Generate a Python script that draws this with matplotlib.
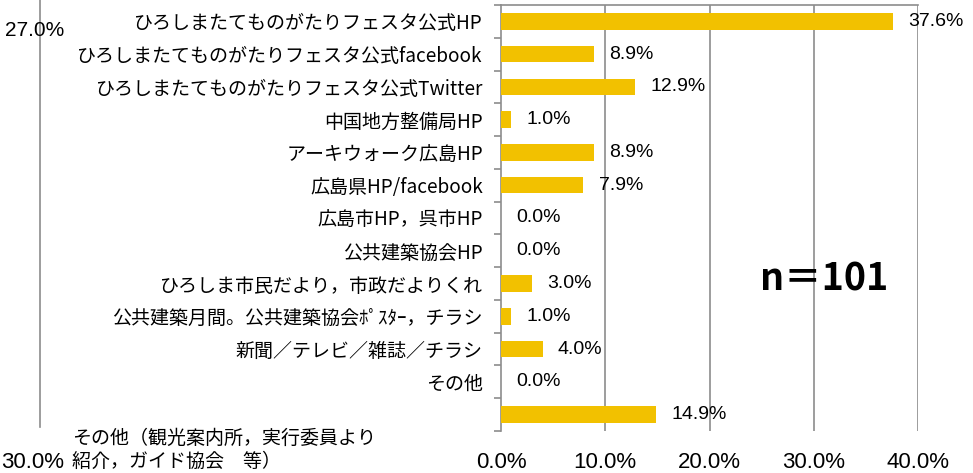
import matplotlib
matplotlib.use("Agg")
import matplotlib.pyplot as plt
from matplotlib import font_manager
import numpy as np

plt.rcParams['font.family'] = ['Noto Sans CJK JP', 'DejaVu Sans']

_names = {f.name for f in font_manager.fontManager.ttflist}
NUM_FONT = ['Liberation Sans Narrow'] if 'Liberation Sans Narrow' in _names else ['Liberation Sans']

categories = [
    "ひろしまたてものがたりフェスタ公式HP",
    "ひろしまたてものがたりフェスタ公式facebook",
    "ひろしまたてものがたりフェスタ公式Twitter",
    "中国地方整備局HP",
    "アーキウォーク広島HP",
    "広島県HP/facebook",
    "広島市HP，呉市HP",
    "公共建築協会HP",
    "ひろしま市民だより，市政だよりくれ",
    "公共建築月間。公共建築協会ﾎﾟｽﾀｰ，チラシ",
    "新聞／テレビ／雑誌／チラシ",
    "その他",
    "その他（観光案内所，実行委員より\n紹介，ガイド協会　等）",
]
values = [37.6, 8.9, 12.9, 1.0, 8.9, 7.9, 0.0, 0.0, 3.0, 1.0, 4.0, 0.0, 14.9]
xticks = [0, 10, 20, 30, 40]
xticklabels = ["0.0%", "10.0%", "20.0%", "30.0%", "40.0%"]
stray_labels = ["27.0%", "30.0%"]
n_text = "n＝101"

bar_color = "#F2C100"
grid_color = "#8C8C8C"

fig = plt.figure(figsize=(9.73, 4.73), dpi=100)
ax = fig.add_axes([501/973, 1 - 431/473, (918 - 501)/973, (431 - 5)/473])

y = np.arange(len(categories))
ax.barh(y, values, height=0.5, color=bar_color, zorder=3)
ax.set_xlim(0, 40)
ax.set_ylim(len(categories) - 0.5, -0.5)

ax.set_xticks(xticks)
ax.set_xticklabels(xticklabels, fontsize=16, family=NUM_FONT)
ax.tick_params(axis='x', length=0, pad=15)
for xv in xticks[1:]:
    ax.axvline(xv, color=grid_color, lw=1.2, zorder=1)

ax.set_yticks(y)
ax.set_yticklabels(list(categories[:-1]) + [""], fontsize=13.7)
ax.tick_params(axis='y', which='major', length=0, pad=13)
ax.set_yticks(np.arange(-0.5, len(categories)), minor=True)
ax.tick_params(axis='y', which='minor', length=5, color=grid_color, width=1.2)

for s in ['right', 'bottom']:
    ax.spines[s].set_visible(False)
for s in ['left', 'top']:
    ax.spines[s].set_color(grid_color)
    ax.spines[s].set_linewidth(1.2)

for yi, v in zip(y, values):
    ax.annotate(f"{v:.1f}%", xy=(v, yi), xytext=(11, 0), textcoords='offset points',
                va='center', ha='left', fontsize=14, family=NUM_FONT)

# displaced label of last category
fig.text(72/973, 1 - 450/473, categories[-1], fontsize=13.7, va='center', ha='left',
         linespacing=1.1)

# stray elements on the left
fig.add_artist(plt.Line2D([40/973, 40/973], [1 - 427/473, 1.0], color=grid_color, lw=1.2))
fig.text(5/973, 1 - 30/473, stray_labels[0], fontsize=15, va='center', ha='left', family=NUM_FONT)
fig.text(1/973, 1 - 462/473, stray_labels[1], fontsize=16, va='center', ha='left', family=NUM_FONT)

fig.text(760/973, 1 - 279/473, n_text, fontsize=27, va='center', ha='left', fontweight='bold')

fig.savefig("out.png", dpi=100)
